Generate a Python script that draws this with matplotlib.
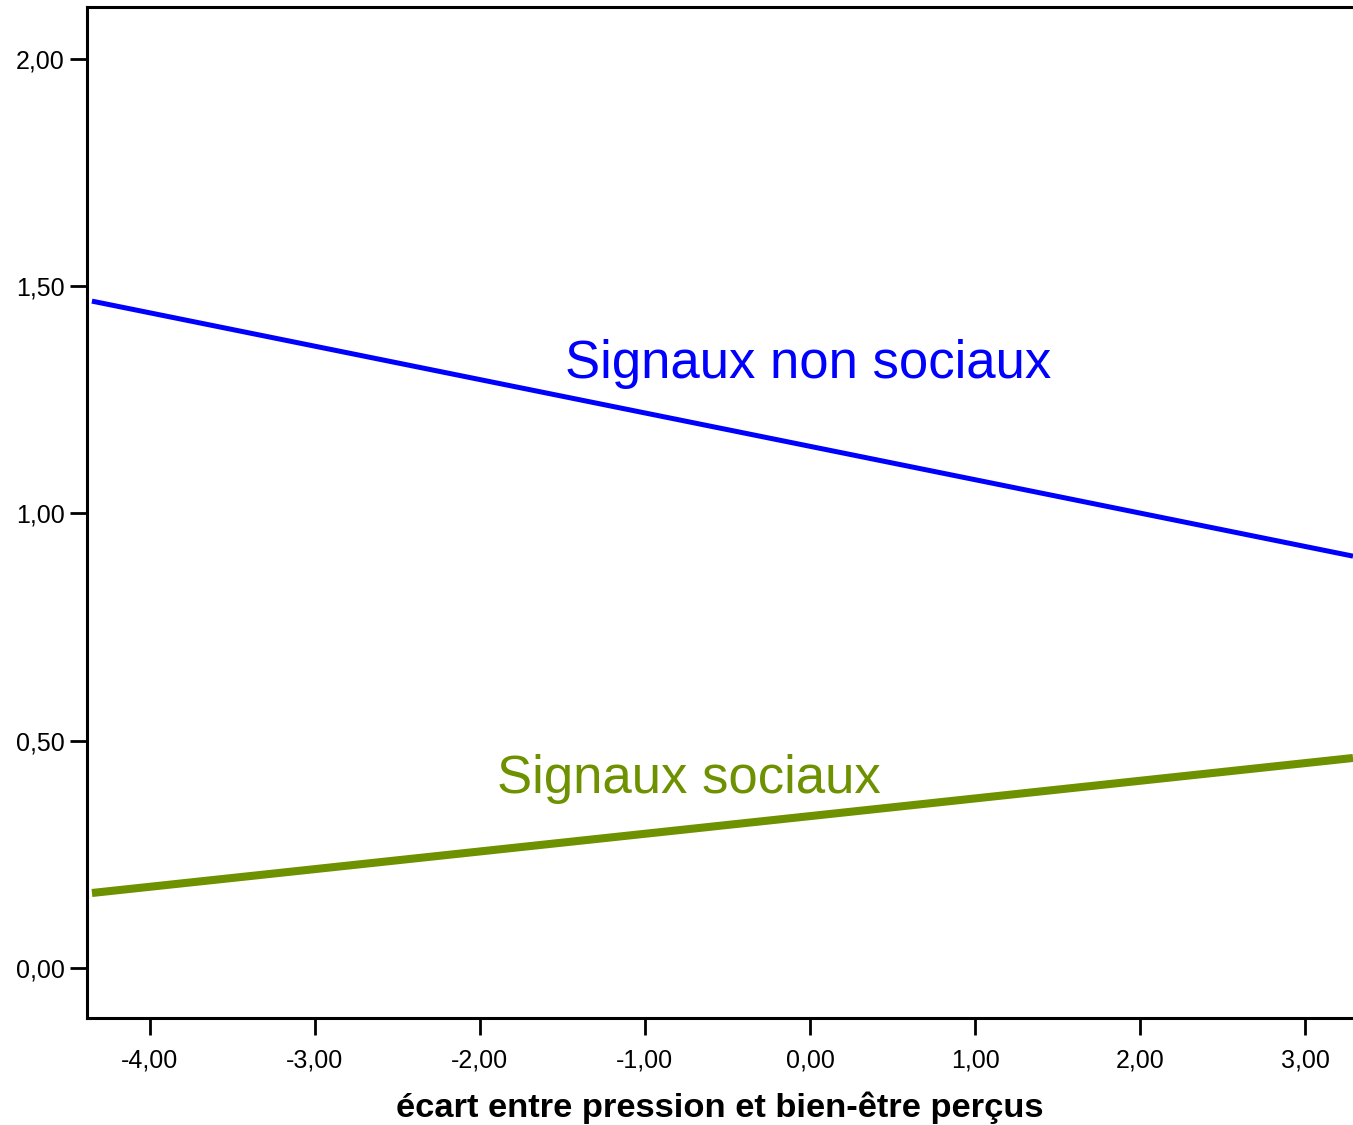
import numpy as np
import matplotlib.pyplot as plt

plt.rcParams['font.family'] = ['Liberation Sans', 'DejaVu Sans']

# données
x_ends = [-4.35, 3.29]
y_non_sociaux = [1.467, 0.906]
y_sociaux = [0.165, 0.462]
xticks = [-4, -3, -2, -1, 0, 1, 2, 3]
yticks = [0.0, 0.5, 1.0, 1.5, 2.0]

fig = plt.figure(figsize=(13.53, 11.25), dpi=100)
ax = fig.add_axes([87 / 1353, 107 / 1125, 1 - 87 / 1353, 1011 / 1125])

ax.plot(x_ends, y_non_sociaux, color='#0000ff', linewidth=3.6, solid_capstyle='butt')
ax.plot(x_ends, y_sociaux, color='#6e9100', linewidth=5.8, solid_capstyle='butt')

ax.text(-1.483, 1.298, 'Signaux non sociaux', color='#0000ff', fontsize=38,
        va='baseline', ha='left')
ax.text(-1.895, 0.385, 'Signaux sociaux', color='#6e9100', fontsize=38,
        va='baseline', ha='left')

ax.set_xlim(-4.38, 3.29)
ax.set_ylim(-0.11, 2.114)
ax.set_xticks(xticks)
ax.set_yticks(yticks)
ax.set_xticklabels([f'{v:.2f}'.replace('.', ',') for v in xticks])
ax.set_yticklabels([f'{v:.2f}'.replace('.', ',') for v in yticks])
ax.tick_params(direction='out', length=12, width=2, labelsize=18, pad=4)
ax.tick_params(axis='x', pad=10)
ax.spines['right'].set_visible(False)
for s in ['left', 'bottom', 'top']:
    ax.spines[s].set_linewidth(2.2)

ax.set_xlabel('écart entre pression et bien-être perçus', fontsize=24.8,
              fontweight='bold', labelpad=14)

fig.savefig('out.png', dpi=100)
